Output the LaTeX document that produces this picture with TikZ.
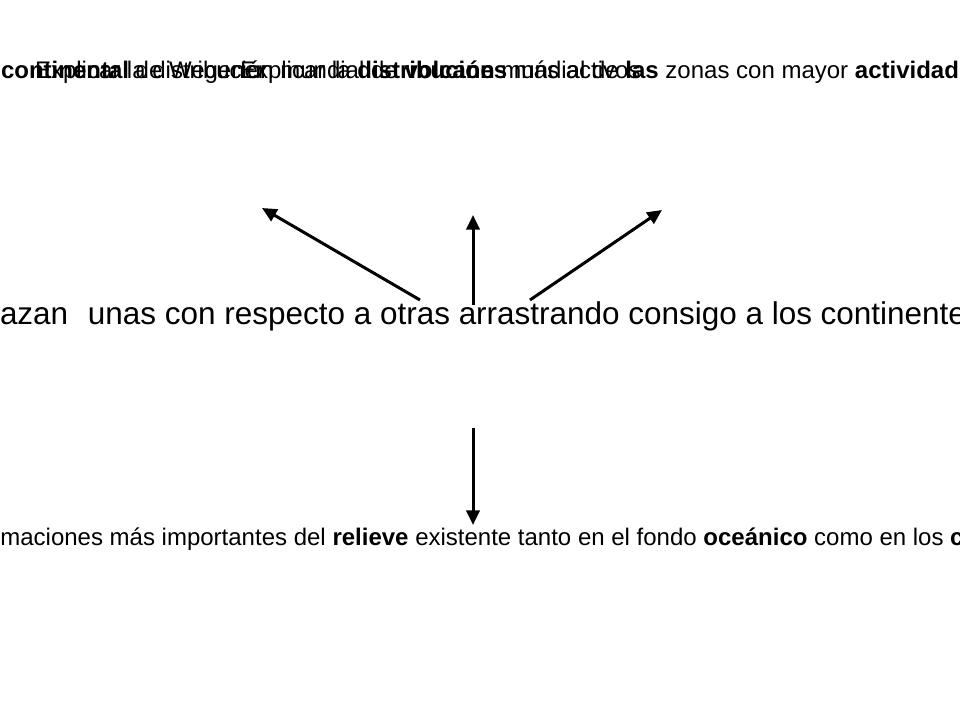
\documentclass[tikz,border=0pt]{standalone}
\usepackage{fontspec}
\setmainfont{Liberation Sans}
\usetikzlibrary{arrows.meta}
\tikzset{
  txt/.style={inner sep=0pt, outer sep=0pt, font=\fontsize{18}{21.6}\selectfont},
  bigtxt/.style={inner sep=0pt, outer sep=0pt, font=\fontsize{23.6}{28.3}\selectfont},
  arr/.style={line width=2.25pt, -{Triangle[length=11pt,width=10pt]}}
}
\begin{document}
\begin{tikzpicture}[x=0.75pt,y=-0.75pt]
\useasboundingbox (0,0) rectangle (960,720);
\fill[white] (0,0) rectangle (960,720);
% top overlapping texts
\node[txt, anchor=base east] (t1) at (266,79) {Explicar la deriva \textbf{continental} de Wegener};
\node[txt, anchor=base west] (t2) at (35,79) {Explicar la distribución mundial de \textbf{volcanes} más activos};
\node[txt, anchor=base west] (t3) at (240,79) {Explicar la \textbf{distribución} mundial de \textbf{las} zonas con mayor \textbf{actividad sísmica}};
% middle text
\node[bigtxt, anchor=base west] (mid) at (0,325) {azan\hspace{0.35em} unas con respecto a otras arrastrando consigo a los continentes};
% bottom text
\node[txt, anchor=base west] (bot) at (-157,545) {Explicar las formaciones más importantes del \textbf{relieve} existente tanto en el fondo \textbf{oceánico} como en los \textbf{continentes}};
% arrow end points
\coordinate (a1s) at (420,300);
\coordinate (a1e) at (262,208);
\coordinate (a2s) at (473,305);
\coordinate (a2e) at (473,215);
\coordinate (a3s) at (530,300);
\coordinate (a3e) at (662,210);
\coordinate (a4s) at (473,428);
\coordinate (a4e) at (473,525);
\draw[arr] (a1s) -- (a1e);
\draw[arr] (a2s) -- (a2e);
\draw[arr] (a3s) -- (a3e);
\draw[arr] (a4s) -- (a4e);
\end{tikzpicture}
\end{document}
